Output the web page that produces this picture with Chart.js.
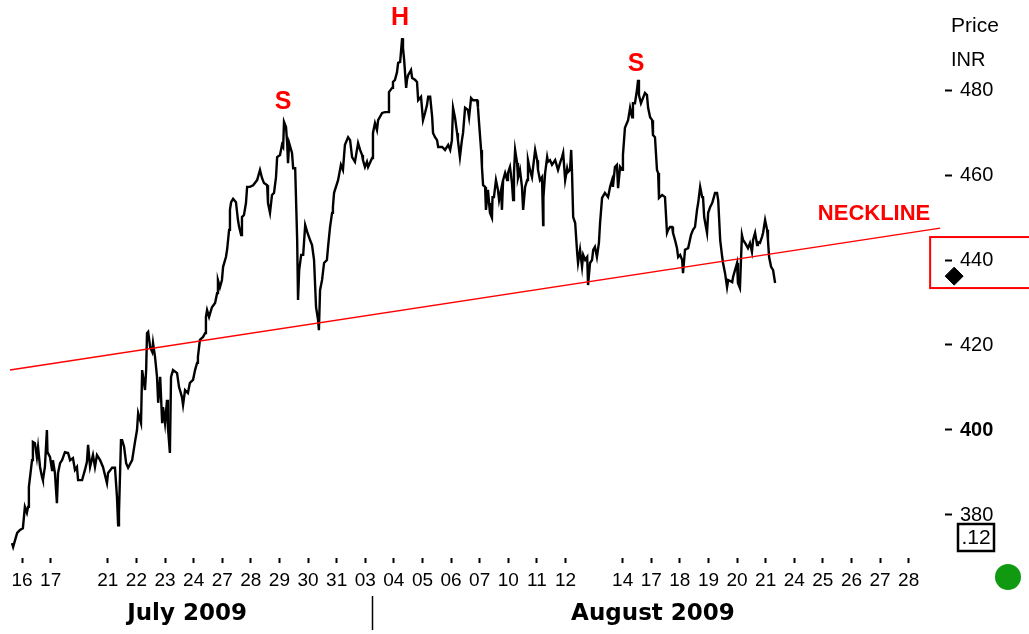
<!DOCTYPE html>
<html>
<head>
<meta charset="utf-8">
<script src="https://cdn.jsdelivr.net/npm/chart.js@4.4.1/dist/chart.umd.min.js"></script>
<style>
    body { margin: 0; background: #fff; }
    #wrap { width: 1029px; height: 634px; position: relative; }
</style>
</head>
<body>
<div id="wrap"><canvas id="chart"></canvas></div>
<script>
// trading day slots on the x axis (20 Jul and 13 Aug have no label)
const dayLabels = ['16', '17', '21', '22', '23', '24', '27', '28', '29', '30', '31', '03', '04', '05', '06', '07',
    '10', '11', '12', '14', '17', '18', '19', '20', '21', '24', '25', '26', '27', '28'];
const daySlots = [0, 1, 3, 4, 5, 6, 7, 8, 9, 10, 11, 12, 13, 14, 15, 16, 17, 18, 19, 21, 22, 23, 24, 25, 26, 27, 28, 29, 30, 31];
const monthLabels = ['July 2009', '', 'August 2009'];
const monthSlots = [5.77, 12.27, 22.06];
const priceTicks = [380, 400, 420, 440, 460, 480];

// intraday price, time in day slots
const times = [
    -0.35, -0.31, -0.17, -0.07, 0.03, 0.10, 0.17, 0.21, 0.24, 0.35, 0.38, 0.45, 0.52, 0.56, 0.63, 0.70, 0.73, 0.80, 0.87, 0.89,
    0.98, 1.05, 1.08, 1.15, 1.22, 1.26, 1.33, 1.40, 1.50, 1.61, 1.68, 1.78, 1.85, 1.92, 1.96,
    2.10, 2.20, 2.27, 2.31, 2.38, 2.48, 2.55, 2.62, 2.73, 2.83, 2.97,
    3.01, 3.15, 3.25, 3.32, 3.36, 3.39, 3.46, 3.50, 3.57, 3.64, 3.71, 3.85, 3.95,
    4.02, 4.06, 4.16, 4.20, 4.30, 4.34, 4.37, 4.41, 4.48, 4.55, 4.58, 4.65, 4.72, 4.76, 4.83, 4.90, 4.93,
    5.00, 5.07, 5.10, 5.17, 5.21, 5.28, 5.42, 5.49, 5.59, 5.63, 5.70, 5.80, 5.87, 5.98,
    6.05, 6.12, 6.15, 6.22, 6.33, 6.40, 6.43, 6.47, 6.54, 6.64, 6.75, 6.82, 6.85, 6.92, 6.99,
    7.03, 7.13, 7.17, 7.24, 7.27, 7.31, 7.38, 7.48, 7.55, 7.59, 7.66, 7.69, 7.76, 7.83, 7.87, 7.97,
    8.08, 8.22, 8.32, 8.39, 8.46, 8.57, 8.60, 8.67, 8.74, 8.81, 8.88, 8.92,
    9.02, 9.09, 9.13, 9.16, 9.23, 9.27, 9.30, 9.34, 9.44, 9.48, 9.55, 9.62, 9.65, 9.69, 9.76, 9.83, 9.90, 9.97,
    10.07, 10.14, 10.21, 10.28, 10.35, 10.38, 10.42, 10.49, 10.56, 10.66, 10.70, 10.77, 10.84, 10.87, 10.91,
    11.05, 11.15, 11.22, 11.29, 11.40, 11.47, 11.54, 11.64, 11.75, 11.82, 11.89, 11.92, 11.99,
    12.06, 12.10, 12.24, 12.27, 12.34, 12.41, 12.45, 12.59, 12.69, 12.80, 12.83, 12.94, 12.97,
    13.04, 13.11, 13.15, 13.22, 13.29, 13.32, 13.36, 13.43, 13.46, 13.50, 13.60, 13.64, 13.74, 13.81, 13.85, 13.95,
    14.02, 14.09, 14.16, 14.20, 14.27, 14.34, 14.37, 14.44, 14.51, 14.55, 14.69, 14.79, 14.90, 14.97,
    15.03, 15.07, 15.14, 15.21, 15.24, 15.31, 15.38, 15.42, 15.49, 15.59, 15.63, 15.70, 15.77, 15.91, 15.94, 15.98,
    16.05, 16.08, 16.12, 16.19, 16.22, 16.29, 16.33, 16.36, 16.43, 16.45, 16.50, 16.57, 16.64, 16.68, 16.75, 16.78, 16.82, 16.89, 16.96, 16.99,
    17.06, 17.13, 17.17, 17.20, 17.24, 17.31, 17.34, 17.41, 17.48, 17.52, 17.59, 17.66, 17.69, 17.76, 17.83, 17.87, 17.94,
    18.01, 18.04, 18.11, 18.18, 18.22, 18.23, 18.29, 18.36, 18.39, 18.46, 18.53, 18.64, 18.74, 18.81, 18.88, 18.92, 18.99,
    19.06, 19.09, 19.16, 19.20, 19.23, 19.27, 19.34, 19.41, 19.44, 19.51, 19.58, 19.62, 19.69, 19.76, 19.79, 19.86, 19.93, 19.97,
    20.03, 20.10, 20.17, 20.21, 20.28, 20.38, 20.49, 20.56, 20.63, 20.66, 20.73, 20.80, 20.84, 20.91, 20.98,
    21.01, 21.08, 21.19, 21.26, 21.33, 21.36, 21.43, 21.50, 21.54, 21.57, 21.64, 21.71, 21.78, 21.85, 21.89, 21.96,
    22.03, 22.06, 22.13, 22.20, 22.24, 22.27, 22.38, 22.48, 22.55, 22.59, 22.66, 22.73, 22.76, 22.83, 22.90, 22.94,
    23.01, 23.08, 23.11, 23.18, 23.29, 23.39, 23.46, 23.53, 23.60, 23.64, 23.71, 23.78, 23.81, 23.85, 23.95, 23.99,
    24.06, 24.13, 24.16, 24.23, 24.30, 24.34, 24.41, 24.48, 24.51, 24.58, 24.65, 24.69, 24.83, 24.86,
    25.00, 25.03, 25.10, 25.17, 25.21, 25.28, 25.38, 25.45, 25.52, 25.56, 25.63, 25.70, 25.73, 25.80, 25.87, 25.91, 25.98,
    26.05, 26.08, 26.12, 26.19, 26.26, 26.33
];
const prices = [
    373.4, 372.5, 375.8, 376.5, 376.9, 381.9, 380.5, 381.9, 386.6, 392.9, 397.2, 396.9, 393.6, 396.0, 391.3, 388.9, 388.2, 391.3, 400.0, 394.8,
    393.6, 390.6, 392.9, 389.9, 382.8, 389.9, 392.2, 392.9, 394.8, 394.6, 392.9, 393.4, 390.6, 391.3, 388.2,
    388.2, 390.6, 392.5, 396.5, 391.3, 394.1, 391.3, 394.1, 392.9, 391.3, 387.5,
    389.9, 391.1, 391.1, 384.2, 377.6, 380.5, 397.6, 397.6, 396.0, 392.2, 391.1, 392.9, 397.2,
    400.0, 404.0, 401.6, 414.1, 409.4, 414.1, 422.8, 423.1, 419.5, 418.4, 420.5, 417.2, 412.5, 406.4, 412.5, 401.6, 405.4,
    401.6, 407.1, 400.7, 394.6, 412.5, 414.1, 413.4, 410.1, 407.8, 405.9, 409.4, 408.7, 411.1, 411.8,
    414.1, 415.8, 417.2, 421.2, 421.9, 422.8, 426.6, 428.2, 426.6, 428.9, 429.9, 432.2, 435.3, 433.6, 435.3,
    438.4, 440.7, 442.4, 447.1, 451.8, 453.6, 454.4, 453.6, 449.4, 447.8, 445.9, 450.1, 450.6, 453.4, 457.2, 457.2,
    457.6, 458.8, 461.2, 459.3, 458.1, 457.6, 453.4, 451.1, 455.3, 455.8, 459.5, 464.2,
    464.7, 467.1, 466.6, 472.5, 471.3, 467.5, 462.8, 467.5, 465.2, 461.6, 461.6, 444.7, 430.6, 437.6, 441.2, 441.2, 448.2, 446.6,
    444.7, 443.5, 440.0, 428.9, 425.9, 423.5, 432.9, 435.3, 439.3, 440.0, 443.1, 447.8, 451.1, 452.5, 455.8,
    458.8, 462.4, 461.2, 467.1, 468.9, 468.2, 464.2, 463.1, 467.5, 465.9, 464.7, 463.5, 461.9,
    463.1, 461.9, 464.0, 469.9, 472.2, 470.6, 472.9, 474.6, 474.8, 474.8, 479.5, 480.5, 481.9,
    482.4, 484.2, 486.4, 486.6, 492.2, 489.9, 487.1, 480.5, 482.4, 483.5, 484.7, 482.8, 482.4, 481.9, 477.6, 478.4,
    472.9, 474.6, 476.5, 478.4, 478.4, 473.6, 469.9, 468.9, 468.2, 466.6, 466.6, 465.9, 467.1, 465.9,
    468.2, 475.8, 473.4, 469.9, 468.2, 464.2, 468.2, 469.9, 475.8, 475.3, 473.6, 478.1, 477.6, 477.6, 476.0, 472.2,
    465.9, 461.9, 457.6, 457.2, 451.8, 456.5, 453.4, 451.1, 449.9, 454.8, 454.8, 458.8, 456.5, 454.1, 456.5, 451.8, 458.8, 460.5, 458.8, 460.5,
    461.9, 458.1, 454.1, 460.5, 465.9, 462.8, 459.3, 461.2, 457.2, 451.8, 457.2, 458.8, 463.5, 461.2, 459.5, 461.9, 465.9,
    463.5, 461.2, 458.8, 459.5, 448.2, 454.8, 460.5, 464.2, 463.1, 463.5, 462.4, 463.5, 461.2, 462.8, 464.2, 465.2, 458.8,
    461.6, 460.7, 461.2, 465.9, 460.5, 450.1, 448.7, 441.6, 439.3, 442.4, 438.4, 441.2, 440.0, 440.7, 434.1, 439.3, 440.0, 442.4,
    443.1, 440.7, 444.0, 448.7, 454.6, 455.8, 454.8, 457.2, 458.8, 457.2, 461.9, 462.4, 456.9, 461.9, 461.2,
    464.7, 471.1, 472.9, 475.8, 473.6, 476.9, 476.9, 480.0, 482.4, 478.8, 476.9, 478.1, 479.3, 478.8, 475.8, 473.6,
    472.9, 469.4, 468.9, 461.2, 460.5, 454.6, 455.3, 454.8, 446.4, 447.1, 447.8, 447.8, 446.4, 444.7, 442.8, 440.7,
    441.2, 440.0, 436.9, 442.4, 442.8, 445.9, 447.1, 447.8, 451.8, 453.4, 457.2, 454.8, 454.8, 450.1, 446.4, 451.1,
    452.5, 453.4, 454.1, 455.8, 455.8, 454.1, 444.7, 440.7, 439.3, 436.9, 433.6, 435.3, 434.8, 436.0,
    439.3, 434.6, 433.4, 445.9, 444.7, 444.0, 442.8, 444.0, 441.9, 444.7, 446.4, 443.5, 444.2, 444.0, 445.4, 446.4, 449.4,
    447.1, 444.7, 440.7, 438.4, 437.6, 434.6
];

// neckline end points
const necklineTimes = [-0.42, 32.1];
const necklinePrices = [414.1, 447.5];

// last price marker
const lastTime = [32.59];
const lastPrice = [436.2];

// pattern labels
const patternLabels = ['S', 'H', 'S', 'NECKLINE'];
const patternTimes = [9.13, 13.22, 21.47, 29.79];
const patternPrices = [477.2, 496.9, 486.1, 450.8];

// current price box
const boxTime = 31.75;
const boxPrices = [445.4, 433.4];

function pairs(xs, ys) {
    return xs.map((t, i) => ({ x: t, y: ys[i] }));
}

// no extra padding around the plot, chart area runs to the canvas edge
function noPadding(scale) {
    scale.paddingLeft = 0;
    scale.paddingRight = 0;
    scale.paddingTop = 0;
    scale.paddingBottom = 0;
}

const annotations = {
    id: 'annotations',
    afterDraw(chart) {
        const ctx = chart.ctx;
        const xs = chart.scales.x;
        const ys = chart.scales.y;
        ctx.save();

        // S H S and neckline text
        ctx.fillStyle = '#ff0000';
        ctx.textAlign = 'center';
        ctx.textBaseline = 'middle';
        patternLabels.forEach((lab, i) => {
            ctx.font = lab.length > 1 ? 'bold 22px "Liberation Sans"' : 'bold 25px "Liberation Sans"';
            ctx.fillText(lab, xs.getPixelForValue(patternTimes[i]), ys.getPixelForValue(patternPrices[i]));
        });

        // price box
        ctx.strokeStyle = '#ff0000';
        ctx.lineWidth = 2;
        const bx = xs.getPixelForValue(boxTime);
        const by0 = ys.getPixelForValue(boxPrices[0]);
        const by1 = ys.getPixelForValue(boxPrices[1]);
        ctx.strokeRect(bx, by0, chart.width - bx + 10, by1 - by0);

        // axis caption
        ctx.fillStyle = '#000';
        ctx.textAlign = 'left';
        ctx.font = '21px "Liberation Sans"';
        ctx.fillText('Price', 951, 26);
        ctx.font = '20px "Liberation Sans"';
        ctx.fillText('INR', 951, 60);

        // small value box
        ctx.strokeStyle = '#000';
        ctx.lineWidth = 2.5;
        ctx.strokeRect(958, 524, 36, 27);
        ctx.font = '21px "Liberation Sans"';
        ctx.textAlign = 'center';
        ctx.fillText('.12', 976, 538);

        // status dot
        ctx.fillStyle = '#119911';
        ctx.beginPath();
        ctx.arc(1008, 577, 13, 0, Math.PI * 2);
        ctx.fill();
        ctx.restore();
    }
};

const ctx = document.getElementById('chart').getContext('2d');

let config = {
    type: 'line',
    data: {
        datasets: [
            {
                label: 'Price',
                data: pairs(times, prices),
                borderColor: '#000',
                borderWidth: 2.4,
                pointRadius: 0,
                tension: 0,
                order: 1
            },
            {
                label: 'Neckline',
                data: pairs(necklineTimes, necklinePrices),
                borderColor: '#ff0000',
                borderWidth: 1.5,
                pointRadius: 0,
                order: 0
            },
            {
                label: 'Last',
                data: pairs(lastTime, lastPrice),
                showLine: false,
                pointStyle: 'rectRot',
                pointRadius: 9,
                backgroundColor: '#000',
                borderColor: '#000',
                clip: false
            }
        ]
    },
    options: {
        responsive: true,
        maintainAspectRatio: false,
        animation: false,
        layout: { padding: 0, autoPadding: false },
        plugins: {
            legend: { display: false },
            tooltip: { enabled: false }
        },
        scales: {
            x: {
                type: 'linear',
                position: 'bottom',
                min: -0.77,
                max: 32.27,
                weight: 0,
                border: { display: false },
                grid: { drawOnChartArea: false, drawTicks: true, tickLength: 5, tickWidth: 2, tickColor: '#000' },
                ticks: {
                    autoSkip: false,
                    maxRotation: 0,
                    padding: 6,
                    color: '#000',
                    font: { family: 'Liberation Sans', size: 19 },
                    callback: (value, index) => dayLabels[index]
                },
                afterBuildTicks: (scale) => { scale.ticks = daySlots.map(v => ({ value: v })); },
                afterFit: (scale) => { scale.height = 38; noPadding(scale); }
            },
            x2: {
                type: 'linear',
                position: 'bottom',
                min: -0.77,
                max: 32.27,
                weight: 1,
                border: { display: false },
                grid: {
                    drawOnChartArea: false,
                    drawTicks: true,
                    tickLength: 34,
                    tickWidth: 1.5,
                    tickColor: (c) => (c.index === 1 ? '#000' : 'rgba(0,0,0,0)')
                },
                ticks: {
                    autoSkip: false,
                    maxRotation: 0,
                    padding: -30,
                    color: '#000',
                    font: { family: 'DejaVu Sans', size: 23, weight: 'bold' },
                    callback: (value, index) => monthLabels[index]
                },
                afterBuildTicks: (scale) => { scale.ticks = monthSlots.map(v => ({ value: v })); },
                afterFit: (scale) => { scale.height = 38; noPadding(scale); }
            },
            y: {
                type: 'linear',
                position: 'right',
                min: 369.88,
                max: 501.18,
                border: { display: false },
                grid: { drawOnChartArea: false, drawTicks: true, tickLength: 7, tickWidth: 2, tickColor: '#000' },
                ticks: {
                    padding: 8,
                    color: '#000',
                    font: (c) => ({
                        family: 'Liberation Sans',
                        size: 20,
                        weight: c.tick && c.tick.value === 400 ? 'bold' : 'normal'
                    })
                },
                afterBuildTicks: (scale) => { scale.ticks = priceTicks.map(v => ({ value: v })); },
                afterFit: (scale) => { scale.width = 84; noPadding(scale); }
            }
        }
    },
    plugins: [annotations]
};

const mychart = new Chart(ctx, config);
</script>
</body>
</html>
